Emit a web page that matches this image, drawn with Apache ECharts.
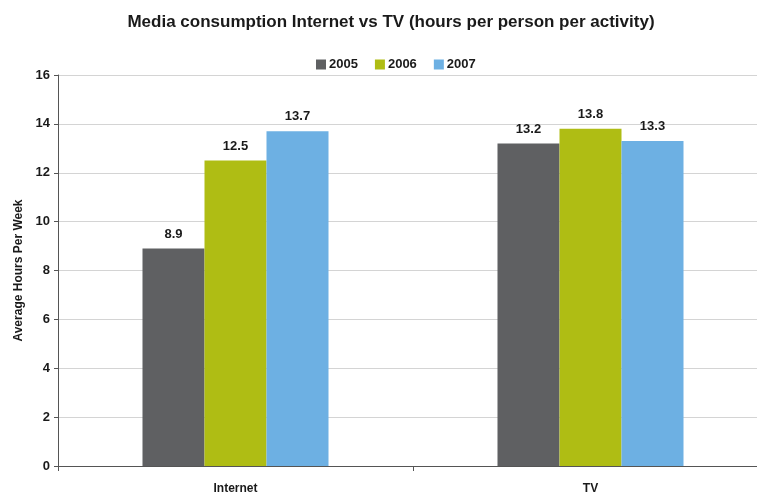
<!DOCTYPE html>
<html>
<head>
<meta charset="utf-8">
<script src="https://cdn.jsdelivr.net/npm/echarts@6/dist/echarts.min.js"></script>
<style>
  html, body { margin: 0; padding: 0; background: #ffffff; overflow: hidden; }
  /* The plot runs a little past the right edge of the window */
  #chart { width: 770px; height: 498px; }
</style>
</head>
<body>
<div id="chart"></div>
<script>
// Weekly media hours per activity, by year
const categories = ['Internet', 'TV'];
const seriesNames = ['2005', '2006', '2007'];
const values2005 = [8.9, 13.2];
const values2006 = [12.5, 13.8];
const values2007 = [13.7, 13.3];
const yTicks = [0, 2, 4, 6, 8, 10, 12, 14, 16];

const colors = ['#5f6062', '#afbd14', '#6db0e3'];
const font = 'Liberation Sans, Arial, sans-serif';

const chart = echarts.init(document.getElementById('chart'), null, { renderer: 'canvas' });

const seriesData = [values2005, values2006, values2007];

chart.setOption({
  animation: false,
  color: colors,
  textStyle: { fontFamily: font },
  title: {
    text: 'Media consumption Internet vs TV (hours per person per activity)',
    left: 386,
    textAlign: 'center',
    top: 9,
    textStyle: { fontSize: 17, fontWeight: 'bold', color: '#1a1a1a', fontFamily: font }
  },
  legend: {
    data: seriesNames,
    left: 311,
    top: 53,
    itemWidth: 10,
    itemHeight: 10,
    itemGap: 17,
    icon: 'rect',
    textStyle: { fontSize: 13, fontWeight: 'bold', color: '#1a1a1a', fontFamily: font, padding: [0, 0, 0, -2] }
  },
  grid: {
    left: 58,
    top: 75,
    width: 710,
    height: 391
  },
  xAxis: {
    type: 'category',
    data: categories,
    axisLine: { lineStyle: { color: '#555555', width: 1 } },
    axisTick: { show: true, alignWithLabel: false, length: 5, lineStyle: { color: '#555555' } },
    axisLabel: { fontSize: 12, fontWeight: 'bold', color: '#1a1a1a', margin: 17, fontFamily: font }
  },
  yAxis: {
    type: 'value',
    min: yTicks[0],
    max: yTicks[yTicks.length - 1],
    interval: yTicks[1] - yTicks[0],
    name: 'Average Hours Per Week',
    nameLocation: 'middle',
    nameGap: 31,
    nameRotate: 90,
    nameTextStyle: { fontSize: 12, fontWeight: 'bold', color: '#1a1a1a', fontFamily: font },
    axisLine: { show: true, lineStyle: { color: '#555555', width: 1 } },
    axisTick: { show: true, length: 4, lineStyle: { color: '#555555' } },
    axisLabel: { fontSize: 13, fontWeight: 'bold', color: '#1a1a1a', margin: 8, fontFamily: font },
    splitLine: { lineStyle: { color: '#d4d4d4', width: 1 } }
  },
  series: seriesNames.map((name, i) => ({
    name: name,
    type: 'bar',
    data: seriesData[i],
    barGap: '0%',
    barCategoryGap: '47.6%',
    label: {
      show: true,
      position: 'top',
      distance: 8,
      fontSize: 13,
      fontWeight: 'bold',
      color: '#1a1a1a',
      fontFamily: font
    }
  }))
});
</script>
</body>
</html>
